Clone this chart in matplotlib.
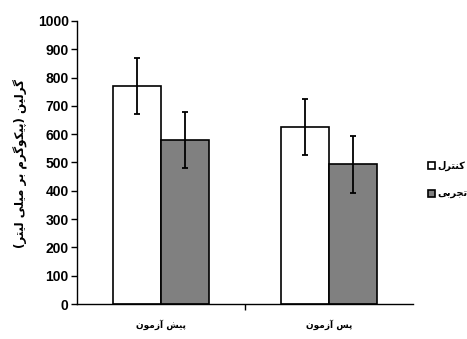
import matplotlib.pyplot as plt
import numpy as np

# data
groups = ['پیش آزمون', 'پس آزمون']
series = ['کنترل', 'تجربی']
control = [770, 625]
control_sd = [100, 98]
experimental = [580, 493]
experimental_sd = [98, 100]
yticks = list(range(0, 1001, 100))
ylabel = 'گرلین (پیکوگرم بر میلی لیتر)'

# matplotlib has no arabic shaping, so map letters to presentation forms
# (isolated, final, initial, medial)
FORMS = {
    'ا': ('\uFE8D', '\uFE8E', None, None),
    'آ': ('\uFE81', '\uFE82', None, None),
    'ب': ('\uFE8F', '\uFE90', '\uFE91', '\uFE92'),
    'پ': ('\uFB56', '\uFB57', '\uFB58', '\uFB59'),
    'ت': ('\uFE95', '\uFE96', '\uFE97', '\uFE98'),
    'ج': ('\uFE9D', '\uFE9E', '\uFE9F', '\uFEA0'),
    'ر': ('\uFEAD', '\uFEAE', None, None),
    'ز': ('\uFEAF', '\uFEB0', None, None),
    'س': ('\uFEB1', '\uFEB2', '\uFEB3', '\uFEB4'),
    'ش': ('\uFEB5', '\uFEB6', '\uFEB7', '\uFEB8'),
    'ک': ('\uFB8E', '\uFB8F', '\uFB90', '\uFB91'),
    'گ': ('\uFB92', '\uFB93', '\uFB94', '\uFB95'),
    'ل': ('\uFEDD', '\uFEDE', '\uFEDF', '\uFEE0'),
    'م': ('\uFEE1', '\uFEE2', '\uFEE3', '\uFEE4'),
    'ن': ('\uFEE5', '\uFEE6', '\uFEE7', '\uFEE8'),
    'و': ('\uFEED', '\uFEEE', None, None),
    'ی': ('\uFBFC', '\uFBFD', '\uFBFE', '\uFBFF'),
}
MIRROR = {'(': ')', ')': '('}


def shape(text):
    out = []
    n = len(text)
    for i, ch in enumerate(text):
        if ch not in FORMS:
            out.append(MIRROR.get(ch, ch))
            continue
        prev = text[i - 1] if i > 0 else ''
        nxt = text[i + 1] if i < n - 1 else ''
        # joins to previous if previous letter connects forward
        join_prev = prev in FORMS and FORMS[prev][2] is not None
        join_next = nxt in FORMS and FORMS[ch][2] is not None
        iso, fin, ini, med = FORMS[ch]
        if join_prev and join_next:
            out.append(med)
        elif join_prev:
            out.append(fin)
        elif join_next:
            out.append(ini)
        else:
            out.append(iso)
    return ''.join(reversed(out))


plt.rcParams['font.family'] = ['Liberation Sans', 'DejaVu Sans']
plt.rcParams['font.weight'] = 'bold'

fig = plt.figure(figsize=(4.67, 3.39), dpi=100)
ax = fig.add_axes([77 / 467, 35 / 339, 336 / 467, 283 / 339])

x = np.arange(len(groups))
w = 0.285
ax.bar(x - w / 2, control, w, color='white', edgecolor='black', linewidth=1.2,
       label=shape(series[0]))
ax.bar(x + w / 2, experimental, w, color='#808080', edgecolor='black', linewidth=1.2,
       label=shape(series[1]))
ax.errorbar(x - w / 2, control, yerr=control_sd, fmt='none', ecolor='black',
            elinewidth=1.3, capsize=2.5, capthick=1.3)
ax.errorbar(x + w / 2, experimental, yerr=experimental_sd, fmt='none', ecolor='black',
            elinewidth=1.3, capsize=2.5, capthick=1.3)

ax.set_xlim(-0.5, 1.5)
ax.set_ylim(0, 1000)
ax.set_yticks(yticks)
ax.tick_params(axis='y', labelsize=10, length=4, width=1, pad=2)
ax.set_xticks(x)
ax.set_xticklabels([shape(g) for g in groups], family='DejaVu Sans', fontsize=6.5)
ax.tick_params(axis='x', length=0, pad=11)
ax.set_xticks([0.5], minor=True)
ax.tick_params(axis='x', which='minor', length=4, width=1)

for s in ['top', 'right']:
    ax.spines[s].set_visible(False)
for s in ['left', 'bottom']:
    ax.spines[s].set_linewidth(1)

fig.text(21 / 467, 1 - 163 / 339, shape(ylabel), rotation=90, ha='center', va='center',
         family='DejaVu Sans', fontsize=8.5, fontweight='bold')

leg = fig.legend(loc='center left', bbox_to_anchor=(428 / 467, 1 - 180 / 339),
                 frameon=False, borderpad=0, borderaxespad=0,
                 handlelength=0.7, handleheight=0.7,
                 handletextpad=0.3, labelspacing=1.8,
                 prop={'family': 'DejaVu Sans', 'size': 7, 'weight': 'bold'})

fig.savefig('out.png', dpi=100)
